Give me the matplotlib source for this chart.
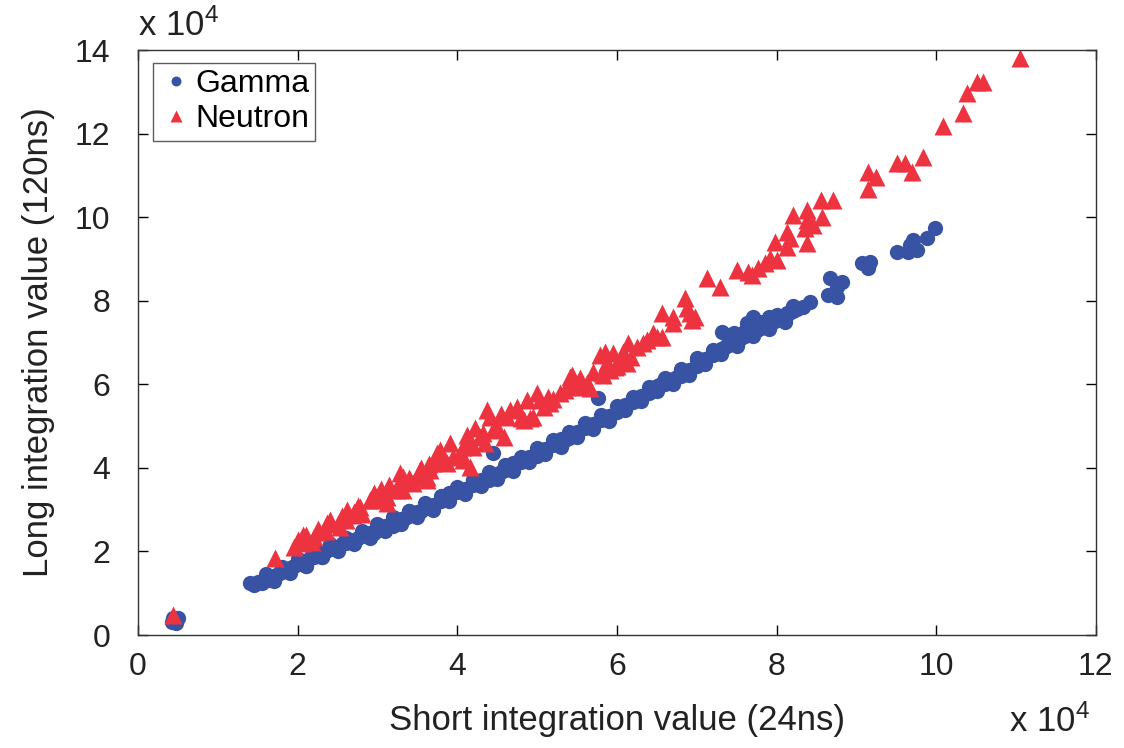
import matplotlib
matplotlib.use("Agg")
import matplotlib.pyplot as plt

plt.rcParams["font.family"] = ["Liberation Sans", "DejaVu Sans"]
plt.rcParams["mathtext.fontset"] = "custom"
plt.rcParams["mathtext.rm"] = "Liberation Sans"

# values in units of 1e4
gamma = [
    (0.42, 0.32), (0.46, 0.36), (0.50, 0.40), (0.44, 0.42), (0.48, 0.30),
    (1.40, 1.24), (1.45, 1.20), (1.50, 1.28), (1.55, 1.25), (1.60, 1.35), (1.65, 1.32),
    (1.70, 1.42), (1.75, 1.45), (1.80, 1.50), (1.85, 1.55), (1.90, 1.60), (1.95, 1.66),
    (2.00, 1.70), (2.05, 1.78), (2.10, 1.76), (2.15, 1.85), (2.20, 1.88), (2.25, 1.90),
    (2.30, 1.98), (2.35, 2.00), (2.40, 2.05), (2.45, 2.10), (2.50, 2.08), (2.55, 2.18),
    (2.60, 2.20), (2.65, 2.25), (2.70, 2.28), (2.75, 2.32), (2.80, 2.36), (2.85, 2.40),
    (2.90, 2.45), (2.95, 2.44), (3.00, 2.52), (3.05, 2.55), (3.10, 2.60), (3.15, 2.62),
    (3.20, 2.70), (3.25, 2.72), (3.30, 2.78), (3.35, 2.80), (3.40, 2.86), (3.45, 2.90),
    (3.50, 2.95), (3.55, 2.98), (3.60, 3.04), (3.65, 3.08), (3.70, 3.12), (3.80, 3.22),
    (3.85, 3.25), (3.90, 3.32), (4.00, 3.42), (4.05, 3.45), (4.10, 3.50), (4.20, 3.58),
    (4.25, 3.62), (4.30, 3.70), (4.40, 3.78), (4.45, 4.35), (4.50, 3.86), (4.55, 3.90),
    (4.60, 3.96), (4.70, 4.05), (4.80, 4.15), (4.85, 4.18), (4.90, 4.25), (5.00, 4.35),
    (5.05, 4.38), (5.10, 4.45), (5.20, 4.55), (5.30, 4.62), (5.35, 4.68), (5.40, 4.72),
    (5.50, 4.85), (5.60, 4.95), (5.65, 5.00), (5.70, 5.05), (5.76, 5.67), (5.80, 5.15),
    (5.85, 5.18), (5.90, 5.25), (6.00, 5.35), (6.05, 5.42), (6.10, 5.50), (6.20, 5.58),
    (6.25, 5.65), (6.30, 5.72), (6.40, 5.80), (6.45, 5.88), (6.50, 5.95), (6.55, 6.00),
    (6.60, 6.02), (6.70, 6.12), (6.75, 6.18), (6.80, 6.25), (6.85, 6.30), (6.90, 6.35),
    (7.00, 6.45), (7.05, 6.55), (7.10, 6.60), (7.20, 6.70), (7.25, 6.78), (7.30, 6.85),
    (7.32, 7.25), (7.46, 7.22), (7.51, 7.13), (7.35, 6.90), (7.40, 6.95), (7.45, 7.02),
    (7.50, 7.05), (7.55, 7.10), (7.60, 7.15), (7.65, 7.20), (7.70, 7.28), (7.75, 7.30),
    (7.80, 7.35), (7.85, 7.42), (7.90, 7.45), (7.95, 7.50), (8.00, 7.55), (8.05, 7.60),
    (8.10, 7.62), (8.15, 7.70), (8.20, 7.75), (8.25, 7.80),
    (2.10, 1.65), (2.30, 1.88), (2.60, 2.30), (2.90, 2.36), (3.20, 2.62), (3.40, 2.96),
    (3.70, 3.05), (3.90, 3.40), (4.20, 3.70), (4.40, 3.72), (4.70, 4.12), (5.00, 4.28),
    (5.30, 4.70), (5.60, 5.02), (5.90, 5.18), (6.20, 5.66), (6.40, 5.90), (6.60, 6.10),
    (6.80, 6.20), (7.00, 6.62), (7.20, 6.80), (7.40, 7.05), (7.60, 7.25), (7.90, 7.62),
    (8.10, 7.55),
    (1.60, 1.47), (1.80, 1.63), (2.00, 1.83), (2.20, 2.00), (2.40, 2.17), (2.60, 2.33),
    (2.80, 2.49), (3.00, 2.65), (3.20, 2.82), (3.40, 2.98), (3.60, 3.16), (3.80, 3.34),
    (4.00, 3.54), (4.20, 3.71), (4.40, 3.90), (4.60, 4.08), (4.80, 4.27), (5.00, 4.47),
    (5.20, 4.67), (5.40, 4.85), (5.60, 5.07), (5.80, 5.27), (6.00, 5.48), (6.20, 5.70),
    (6.40, 5.93), (6.60, 6.15), (6.80, 6.37), (7.00, 6.58), (7.20, 6.83), (7.40, 7.08),
    (7.60, 7.28), (7.80, 7.48), (8.00, 7.67), (8.20, 7.88),
    (1.70, 1.30), (1.90, 1.48), (2.10, 1.66), (2.30, 1.86), (2.50, 2.00), (2.70, 2.17),
    (2.90, 2.33), (3.10, 2.48), (3.30, 2.66), (3.50, 2.83), (3.70, 3.00), (3.90, 3.20),
    (4.10, 3.38), (4.30, 3.57), (4.50, 3.74), (4.70, 3.93), (4.90, 4.13), (5.10, 4.33),
    (5.30, 4.50), (5.50, 4.73), (5.70, 4.93), (5.90, 5.13), (6.10, 5.38), (6.30, 5.60),
    (6.50, 5.83), (6.70, 6.00), (6.90, 6.23), (7.10, 6.48), (7.30, 6.73), (7.50, 6.93),
    (7.70, 7.16), (7.90, 7.33), (8.10, 7.50),
    (8.42, 7.97), (8.33, 7.85), (8.21, 7.78), (8.13, 7.70), (8.05, 7.61), (7.92, 7.54),
    (7.79, 7.49), (7.71, 7.61), (7.63, 7.46), (8.65, 8.13), (8.76, 8.09), (8.67, 8.54),
    (8.82, 8.44), (8.76, 8.33), (9.07, 8.90), (9.17, 8.92), (9.15, 8.78), (9.51, 9.16),
    (9.65, 9.16), (9.76, 9.21), (9.67, 9.33), (9.71, 9.45), (9.89, 9.50), (9.99, 9.74),
]

neutron = [
    (0.44, 0.48),
    (1.72, 1.84), (1.95, 2.10), (2.01, 2.27), (2.05, 2.20), (2.07, 2.39), (2.10, 2.40),
    (2.18, 2.22), (2.20, 2.35), (2.26, 2.46), (2.25, 2.55), (2.35, 2.50), (2.37, 2.68),
    (2.41, 2.75), (2.50, 2.65), (2.53, 2.58), (2.55, 2.85), (2.60, 2.75), (2.62, 2.99),
    (2.69, 2.87), (2.70, 2.95), (2.75, 3.10), (2.78, 3.06), (2.80, 2.90), (2.91, 3.23),
    (2.94, 3.23), (2.95, 3.40), (3.00, 3.30), (3.03, 3.30), (3.05, 3.50), (3.12, 3.16),
    (3.12, 3.30), (3.15, 3.60), (3.24, 3.47), (3.25, 3.55), (3.28, 3.88), (3.32, 3.47),
    (3.32, 3.78), (3.40, 3.75), (3.41, 3.71), (3.45, 3.64), (3.53, 3.78), (3.53, 3.95),
    (3.55, 4.00), (3.62, 3.71), (3.62, 3.78), (3.65, 4.10), (3.66, 3.95), (3.70, 4.11),
    (3.75, 4.35), (3.78, 4.43), (3.80, 4.15), (3.87, 4.11), (3.91, 4.59), (3.95, 4.26),
    (4.04, 4.35), (4.07, 4.50), (4.07, 4.19), (4.12, 4.80), (4.16, 4.02), (4.16, 4.67),
    (4.20, 4.50), (4.22, 4.95), (4.29, 4.74), (4.32, 4.83), (4.35, 4.60), (4.37, 5.38),
    (4.41, 5.22), (4.45, 4.90), (4.50, 4.98), (4.55, 5.30), (4.58, 4.74), (4.62, 5.22),
    (4.66, 5.38), (4.75, 5.45), (4.80, 5.20), (4.83, 5.14), (4.91, 5.19), (4.95, 5.22),
    (4.87, 5.62), (5.00, 5.79), (5.04, 5.62), (5.08, 5.45), (5.13, 5.69), (5.16, 5.55),
    (5.20, 5.65), (5.29, 5.79), (5.35, 5.86), (5.38, 5.93), (5.41, 6.17), (5.44, 6.22),
    (5.45, 5.98), (5.54, 6.15), (5.58, 5.93), (5.63, 6.03), (5.66, 5.91), (5.70, 6.30),
    (5.79, 6.70), (5.81, 6.27), (5.83, 6.22), (5.85, 6.77), (5.88, 6.53), (5.91, 6.34),
    (5.95, 6.75), (5.98, 6.41), (6.00, 6.45), (6.07, 6.77), (6.08, 6.65), (6.13, 6.51),
    (6.14, 6.99), (6.17, 6.65), (6.25, 6.90), (6.32, 6.99), (6.38, 7.06), (6.45, 7.22),
    (6.50, 7.13), (6.57, 7.13), (6.57, 7.70), (6.70, 7.61), (6.70, 7.46), (6.85, 8.06),
    (6.88, 7.82), (6.92, 7.70), (6.94, 7.54), (6.98, 7.61), (7.13, 8.54), (7.29, 8.33),
    (7.51, 8.73), (7.64, 8.68), (7.69, 8.61), (7.77, 8.78), (7.86, 8.90), (7.92, 9.02),
    (8.01, 8.97), (7.98, 9.40), (8.13, 9.28), (8.13, 9.64), (8.17, 9.50), (8.38, 9.38),
    (8.36, 9.74), (8.45, 9.81), (8.38, 9.93), (8.21, 10.05), (8.38, 10.17), (8.57, 10.00),
    (8.55, 10.41), (8.71, 10.41), (9.14, 11.08), (9.24, 10.96), (9.14, 10.67),
    (9.51, 11.29), (9.61, 11.29), (9.70, 11.08), (9.84, 11.44), (10.09, 12.18),
    (10.34, 12.49), (10.39, 12.97), (10.51, 13.23), (10.59, 13.23), (11.05, 13.80),
]

gx, gy = zip(*gamma)
nx, ny = zip(*neutron)

BLUE = "#3953a4"
RED = "#ee3340"
TXT = "#222222"

fig = plt.figure(figsize=(11.24, 7.48), dpi=100)
ax = fig.add_axes([0.1228, 0.151, 0.8522, 0.782])

ax.plot(gx, gy, "o", color=BLUE, ms=11, mec="none", label="Gamma")
ax.plot(nx, ny, "^", color=RED, ms=13, mec="none", label="Neutron")

ax.set_xlim(0, 12)
ax.set_ylim(0, 14)
ax.set_xticks(range(0, 13, 2))
ax.set_yticks(range(0, 15, 2))
ax.tick_params(direction="in", length=7, width=1, top=True, right=True,
               labelsize=23, labelcolor=TXT)
ax.tick_params(axis="x", pad=12)
ax.tick_params(axis="y", pad=20)
for sp in ax.spines.values():
    sp.set_color("#333333")
    sp.set_linewidth(1.0)

ax.set_xlabel("Short integration value (24ns)", fontsize=25, color=TXT, labelpad=16)
ax.set_ylabel("Long integration value (120ns)", fontsize=25, color=TXT, labelpad=14)

fig.text(0.123, 0.952, r"x $\mathregular{10^4}$", fontsize=25, color=TXT)
fig.text(0.898, 0.022, r"x $\mathregular{10^4}$", fontsize=25, color=TXT)

leg = ax.legend(loc="upper left", fontsize=23, frameon=True, fancybox=False,
                edgecolor="#333333", handletextpad=0.1, handlelength=1.0,
                borderpad=0.2, labelspacing=0.15, markerscale=0.65,
                borderaxespad=0, bbox_to_anchor=(0.016, 0.978))
leg.get_frame().set_linewidth(1.0)

fig.savefig("out.png", dpi=100)
